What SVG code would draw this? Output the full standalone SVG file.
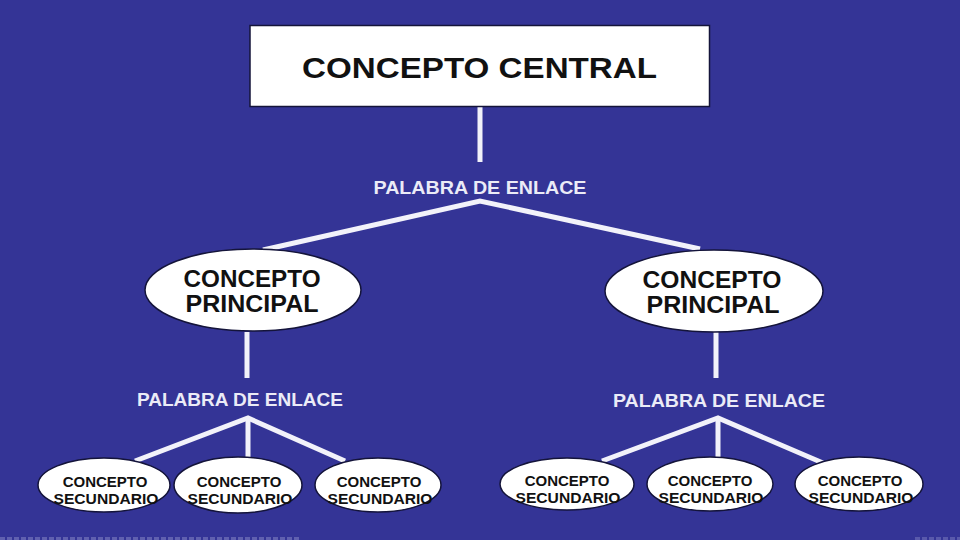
<svg xmlns="http://www.w3.org/2000/svg" width="960" height="540" viewBox="0 0 960 540">
<style>
.bg{fill:#343496}
.node{fill:#ffffff;stroke:#14143a;stroke-width:1.5}
.t{font-family:"Liberation Sans",Arial,sans-serif;font-weight:bold;fill:#111111;text-anchor:middle}
.lnk{font-family:"Liberation Sans",Arial,sans-serif;font-weight:bold;fill:#ebebf7;text-anchor:middle;font-size:18px}
.c{stroke:#f2f2fa;stroke-width:5;fill:none;stroke-linecap:butt;stroke-linejoin:miter}
.sec{font-size:15px}
</style>
<rect class="bg" x="0" y="0" width="960" height="540"/>
<line x1="0" y1="538.5" x2="300" y2="538.5" stroke="#7e7ec0" stroke-width="3" stroke-dasharray="5 2" opacity="0.6"/>
<line x1="915" y1="538.5" x2="960" y2="538.5" stroke="#7e7ec0" stroke-width="3" stroke-dasharray="5 2" opacity="0.5"/>
<g id="connectors">
<line class="c" x1="480" y1="107" x2="480" y2="162"/>
<polyline class="c" points="263,250 480,201 700,249"/>
<line class="c" x1="247" y1="332" x2="247" y2="378"/>
<line class="c" x1="716" y1="332" x2="716" y2="378"/>
<polyline class="c" points="135,461 248,418 345,461"/>
<line class="c" x1="248" y1="418" x2="248" y2="457"/>
<polyline class="c" points="602,461 718,418 823,463"/>
<line class="c" x1="718" y1="418" x2="718" y2="457"/>
</g>
<g id="central">
<rect class="node" x="250" y="25.5" width="459.5" height="81"/>
<text class="t" x="479.5" y="78" font-size="29" textLength="355" lengthAdjust="spacingAndGlyphs">CONCEPTO CENTRAL</text>
</g>
<g id="link-top">
<text class="lnk" x="480" y="194" font-size="19" textLength="213" lengthAdjust="spacingAndGlyphs">PALABRA DE ENLACE</text>
</g>
<g id="principal-left">
<ellipse class="node" cx="253" cy="290" rx="108" ry="41"/>
<text class="t" x="252" y="287" font-size="23.5" textLength="137" lengthAdjust="spacingAndGlyphs">CONCEPTO</text>
<text class="t" x="252" y="312" font-size="23.5" textLength="133" lengthAdjust="spacingAndGlyphs">PRINCIPAL</text>
</g>
<g id="principal-right">
<ellipse class="node" cx="714" cy="291" rx="109" ry="41"/>
<text class="t" x="712" y="288" font-size="23.5" textLength="139" lengthAdjust="spacingAndGlyphs">CONCEPTO</text>
<text class="t" x="713" y="313" font-size="23.5" textLength="133" lengthAdjust="spacingAndGlyphs">PRINCIPAL</text>
</g>
<g id="link-left">
<text class="lnk" x="240" y="405.5" textLength="206" lengthAdjust="spacingAndGlyphs">PALABRA DE ENLACE</text>
</g>
<g id="link-right">
<text class="lnk" x="719" y="406.5" textLength="212" lengthAdjust="spacingAndGlyphs">PALABRA DE ENLACE</text>
</g>
<g id="sec-1">
<ellipse class="node" cx="104" cy="485" rx="66" ry="27"/>
<text class="t sec" x="105" y="487">CONCEPTO</text>
<text class="t sec" x="106" y="504" textLength="105" lengthAdjust="spacingAndGlyphs">SECUNDARIO</text>
</g>
<g id="sec-2">
<ellipse class="node" cx="238" cy="485" rx="64" ry="28"/>
<text class="t sec" x="239" y="487">CONCEPTO</text>
<text class="t sec" x="240" y="504" textLength="105" lengthAdjust="spacingAndGlyphs">SECUNDARIO</text>
</g>
<g id="sec-3">
<ellipse class="node" cx="378" cy="485" rx="63" ry="27"/>
<text class="t sec" x="379" y="487">CONCEPTO</text>
<text class="t sec" x="380" y="504" textLength="105" lengthAdjust="spacingAndGlyphs">SECUNDARIO</text>
</g>
<g id="sec-4">
<ellipse class="node" cx="567" cy="484" rx="67" ry="26"/>
<text class="t sec" x="567" y="486">CONCEPTO</text>
<text class="t sec" x="568" y="503" textLength="105" lengthAdjust="spacingAndGlyphs">SECUNDARIO</text>
</g>
<g id="sec-5">
<ellipse class="node" cx="710" cy="484" rx="63" ry="27"/>
<text class="t sec" x="710" y="486">CONCEPTO</text>
<text class="t sec" x="711" y="503" textLength="105" lengthAdjust="spacingAndGlyphs">SECUNDARIO</text>
</g>
<g id="sec-6">
<ellipse class="node" cx="859" cy="484" rx="64" ry="27"/>
<text class="t sec" x="860" y="486">CONCEPTO</text>
<text class="t sec" x="861" y="503" textLength="105" lengthAdjust="spacingAndGlyphs">SECUNDARIO</text>
</g>
</svg>
